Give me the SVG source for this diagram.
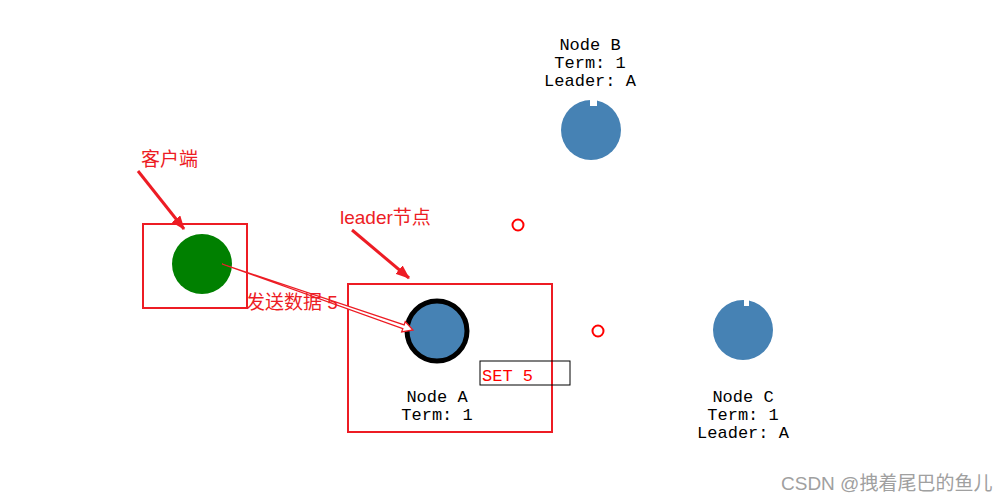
<svg xmlns="http://www.w3.org/2000/svg" width="1008" height="502" viewBox="0 0 1008 502">
<style>
.box{fill:none;stroke:#ed1c24;stroke-width:2}
.mono{font-family:"Liberation Mono","Courier New",monospace;font-size:17px;fill:#000}
.lbl{font-family:"Liberation Sans","Noto Sans CJK SC",sans-serif;font-size:19px;fill:#ed1c24}
.node{fill:#4682b4}
.msg{fill:none;stroke:#ff0000;stroke-width:2}
</style>
<defs>
<marker id="ah" markerWidth="14" markerHeight="11" refX="13" refY="5.5" orient="auto" markerUnits="userSpaceOnUse">
<path d="M0,0 L14,5.5 L0,11 Z" fill="#ed1c24"/>
</marker>
</defs>
<rect width="1008" height="502" fill="#fff"/>
<g id="client">
<rect class="box" x="143" y="224" width="104" height="84"/>
<circle cx="202" cy="264" r="30" fill="#008000"/>
</g>
<g id="nodeA">
<rect class="box" x="348" y="284" width="204" height="148"/>
<circle class="node" cx="437" cy="331" r="30" stroke="#000" stroke-width="5"/>
<text class="mono" x="437" y="402" text-anchor="middle">Node A</text>
<text class="mono" x="437" y="420" text-anchor="middle">Term: 1</text>
</g>
<g id="set5">
<rect x="480" y="361" width="90" height="24" fill="none" stroke="#000" stroke-width="1"/>
<text class="mono" x="482" y="381" style="fill:#ff0000">SET 5</text>
</g>
<g id="nodeB">
<text class="mono" x="590" y="50" text-anchor="middle">Node B</text>
<text class="mono" x="590" y="68" text-anchor="middle">Term: 1</text>
<text class="mono" x="590" y="86" text-anchor="middle">Leader: A</text>
<circle class="node" cx="591" cy="130" r="30"/>
<rect x="590" y="99" width="7" height="7" fill="#fff"/>
</g>
<g id="nodeC">
<circle class="node" cx="743" cy="330" r="30"/>
<rect x="744" y="299" width="5" height="7" fill="#fff"/>
<text class="mono" x="743" y="402" text-anchor="middle">Node C</text>
<text class="mono" x="743" y="420" text-anchor="middle">Term: 1</text>
<text class="mono" x="743" y="438" text-anchor="middle">Leader: A</text>
</g>
<g id="messages">
<circle class="msg" cx="518" cy="225" r="5.5"/>
<circle class="msg" cx="598" cy="331" r="5.5"/>
</g>
<g id="connectors">
<line x1="138" y1="171" x2="184" y2="229" stroke="#ed1c24" stroke-width="3" marker-end="url(#ah)"/>
<line x1="352" y1="230" x2="409" y2="278" stroke="#ed1c24" stroke-width="3" marker-end="url(#ah)"/>
<g transform="translate(222,264) rotate(19.06)">
<path d="M0,0 L192,-2 L192,-5.5 L202,0 L192,5.5 L192,2 Z" fill="#fff" stroke="#ed1c24" stroke-width="1.3" stroke-linejoin="miter"/>
</g>
</g>
<g id="labels">
<text class="lbl" x="141" y="166">客户端</text>
<text class="lbl" x="340" y="224">leader节点</text>
<text class="lbl" x="246" y="309">发送数据 5</text>
<text x="781" y="490" style="font-family:'Liberation Sans','Noto Sans CJK SC',sans-serif;font-size:19px;fill:#a0a0a0">CSDN @拽着尾巴的鱼儿</text>
</g>
</svg>
